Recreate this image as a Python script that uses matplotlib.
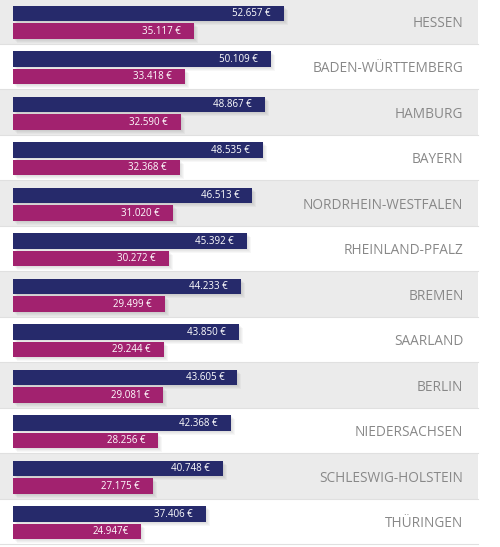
import matplotlib.pyplot as plt
from matplotlib.transforms import offset_copy

# Bundesländer and two salary series (EUR)
states = ['HESSEN', 'BADEN-WÜRTTEMBERG', 'HAMBURG', 'BAYERN', 'NORDRHEIN-WESTFALEN',
          'RHEINLAND-PFALZ', 'BREMEN', 'SAARLAND', 'BERLIN', 'NIEDERSACHSEN',
          'SCHLESWIG-HOLSTEIN', 'THÜRINGEN']
upper = [52657, 50109, 48867, 48535, 46513, 45392, 44233, 43850, 43605, 42368, 40748, 37406]
lower = [35117, 33418, 32590, 32368, 31020, 30272, 29499, 29244, 29081, 28256, 27175, 24947]
upper_text = ['52.657 €', '50.109 €', '48.867 €', '48.535 €', '46.513 €', '45.392 €',
              '44.233 €', '43.850 €', '43.605 €', '42.368 €', '40.748 €', '37.406 €']
lower_text = ['35.117 €', '33.418 €', '32.590 €', '32.368 €', '31.020 €', '30.272 €',
              '29.499 €', '29.244 €', '29.081 €', '28.256 €', '27.175 €', '24.947€']

navy = '#262a6b'
magenta = '#a2226f'

plt.rcParams['font.family'] = ['Open Sans', 'DejaVu Sans']

fig = plt.figure(figsize=(5.0, 5.47), dpi=100)
ax = fig.add_axes([0, 0, 1, 1])
ax.set_xlim(-2526, 94620)
ax.set_ylim(11.555, -0.467)
ax.axis('off')

pos = list(range(len(states)))

# alternating row background + separators
for i in pos:
    if i % 2 == 0:
        ax.axhspan(i - 0.5, i + 0.5, xmin=0, xmax=0.956, color='#ebebeb', zorder=0, lw=0)
    ax.axhline(i + 0.5, xmin=0, xmax=0.956, color='#e0e0e0', lw=0.8, zorder=0.5)

off1, off2 = 0.17, 0.215
h1, h2 = 0.35, 0.345

# soft shadow
for k in range(1, 5):
    tr = offset_copy(ax.transData, fig=fig, x=k, y=-k, units='dots')
    ax.barh([p - off1 for p in pos], upper, height=h1, color='#000000', alpha=0.03,
            transform=tr, zorder=1)
    ax.barh([p + off2 for p in pos], lower, height=h2, color='#000000', alpha=0.03,
            transform=tr, zorder=1)

ax.barh([p - off1 for p in pos], upper, height=h1, color=navy, zorder=2)
ax.barh([p + off2 for p in pos], lower, height=h2, color=magenta, zorder=2)

for i in pos:
    ax.annotate(upper_text[i], (upper[i], i - off1), xytext=(-13, 0), textcoords='offset pixels',
                ha='right', va='center', color='white', fontsize=7, zorder=3)
    ax.annotate(lower_text[i], (lower[i], i + off2), xytext=(-13, 0), textcoords='offset pixels',
                ha='right', va='center', color='white', fontsize=7, zorder=3)
    ax.annotate(states[i], (0.927, i), xycoords=ax.get_yaxis_transform(),
                xytext=(0, -2), textcoords='offset pixels', ha='right', va='center',
                color='#888888', fontsize=9.8, zorder=3)

fig.savefig('out.png', dpi=100)
